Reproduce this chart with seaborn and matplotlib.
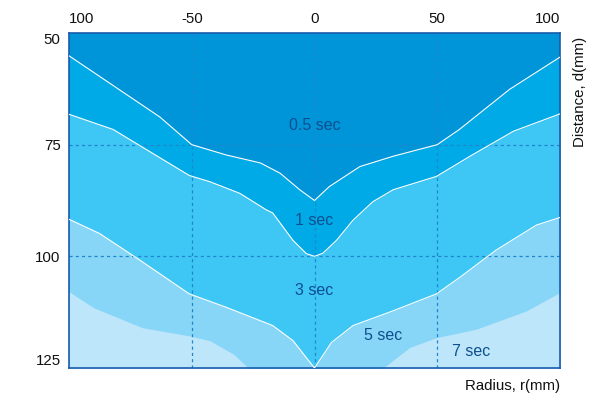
import matplotlib
matplotlib.use('Agg')
import matplotlib.pyplot as plt
import pandas as pd
import seaborn as sns

sns.set_theme(style='white')
plt.rcParams['font.family'] = ['Liberation Sans', 'DejaVu Sans']

# boundary between 0.5 sec and 1 sec
r_05 = [-100, -63, -50, -36, -22, -14, -6, 0, 6, 18.5, 32, 50, 59, 79.5, 100]
d_05 = [55.1, 68.8, 75.0, 77.3, 79.1, 81.4, 85.1, 87.5, 84.4, 79.9, 77.6, 75.0, 71.6, 62.6, 55.4]

# boundary between 1 sec and 3 sec
r_1 = [-100, -82, -51, -42.6, -30.4, -19.6, -17, -8.8, -3.3, 0, 3.4, 9, 15.7, 23.7, 32, 49.7, 63.3, 81, 100]
d_1 = [68.2, 71.6, 81.9, 83.3, 85.9, 89.6, 90.3, 96.4, 99.4, 100, 99.3, 96.4, 91.9, 87.8, 85.1, 82.1, 77.6, 72.0, 68.1]

# boundary between 3 sec and 5 sec
r_3 = [-100, -87.5, -71, -51, -36, -17, -8.7, -4.6, 0, 6.9, 15.7, 32, 49.7, 59.2, 74, 90.4, 100]
d_3 = [91.7, 94.9, 100.9, 108.4, 111.4, 115.5, 118.9, 121.8, 125, 119.3, 115.5, 112.2, 108.4, 104.7, 98.6, 93.0, 91.3]

# boundary between 5 sec and 7 sec
r_5 = [-100, -90, -70, -51, -42.6, -33, -27, -15, 0, 15, 28, 38.8, 49.7, 66, 86.4, 100]
d_5 = [107.9, 111.5, 116.0, 117.8, 118.9, 121.9, 125, 126.5, 127, 126.5, 125, 120.4, 118.2, 116.3, 112.2, 108.1]

zone_labels = ['0.5 sec', '1 sec', '3 sec', '5 sec', '7 sec']
label_r = [0, 0, 0, 28, 64]
label_d = [70.7, 91.9, 107.7, 117.8, 121.4]

colors = ['#0095d9', '#00aae7', '#3ec6f5', '#88d6f7', '#bee6fb']
text_c = '#0d4f8f'
edge_c = '#1a5cad'

fig = plt.figure(figsize=(6.07, 3.97), dpi=100)
ax = fig.add_axes([69 / 607, 1 - 368 / 397, 491 / 607, 335 / 397])
ax.set_facecolor(colors[0])

bounds = [(r_05, d_05), (r_1, d_1), (r_3, d_3), (r_5, d_5)]
for i, (r, d) in enumerate(bounds):
    ax.fill_between(r, d, 140, color=colors[i + 1], lw=0, zorder=1)
    if i < 3:
        df = pd.DataFrame({'r': r, 'd': d})
        sns.lineplot(data=df, x='r', y='d', ax=ax, color='white', lw=0.8,
                     sort=False, zorder=3)

ax.set_xlim(-100, 100)
ax.set_ylim(125, 50)

for xv in [-50, 0, 50]:
    ax.axvline(xv, color='#1f86cc', lw=0.9, ls=(0, (2.5, 2.5)), zorder=2)
for yv in [75, 100]:
    ax.axhline(yv, color='#1f86cc', lw=0.9, ls=(0, (2.5, 2.5)), zorder=2)

for lab, x, y in zip(zone_labels, label_r, label_d):
    ax.text(x, y, lab, color=text_c, fontsize=11.5, ha='center', va='center', zorder=4)

ax.set_xticks([-100, -50, 0, 50, 100])
ax.set_xticklabels(['100', '-50', '0', '50', '100'])
ax.set_yticks([50, 75, 100, 125])
ax.set_yticklabels(['50', '75', '100', '125'])
ax.xaxis.tick_top()
ax.tick_params(axis='x', length=0, pad=5, labelsize=10.8, labelcolor='#111111')
ax.tick_params(axis='y', length=0, pad=6, labelsize=10.8, labelcolor='#111111')
xl = ax.get_xticklabels()
xl[0].set_horizontalalignment('left')
xl[-1].set_horizontalalignment('right')
yl = ax.get_yticklabels()
yl[0].set_verticalalignment('top')
yl[-1].set_verticalalignment('bottom')
ax.set_xlabel('')
ax.set_ylabel('')

for s in ax.spines.values():
    s.set_visible(True)
    s.set_color(edge_c)
    s.set_linewidth(1.2)

fig.text(580 / 607, 1 - 92 / 397, 'Distance, d(mm)', rotation=90, ha='center',
         va='center', fontsize=10.8, color='#111111')
fig.text(560 / 607, 1 - 386 / 397, 'Radius, r(mm)', ha='right', va='center',
         fontsize=10.8, color='#111111')

fig.savefig('out.png', dpi=100)
